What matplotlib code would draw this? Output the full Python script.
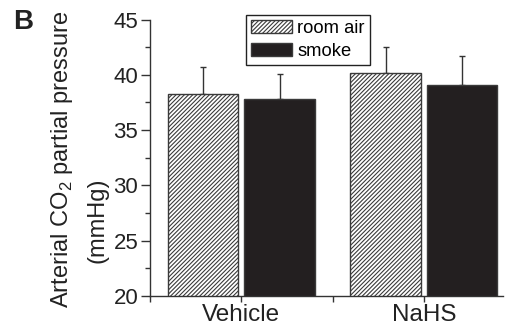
import matplotlib
matplotlib.use("Agg")
import matplotlib.pyplot as plt
from matplotlib.ticker import MultipleLocator
import numpy as np

plt.rcParams['font.family'] = ['Liberation Sans', 'DejaVu Sans']
plt.rcParams['hatch.linewidth'] = 0.8
plt.rcParams['hatch.color'] = '#333333'
plt.rcParams['mathtext.fontset'] = 'custom'
plt.rcParams['mathtext.rm'] = 'Liberation Sans'

groups = ["Vehicle", "NaHS"]
series = ["room air", "smoke"]
room_air_mean = [38.3, 40.2]
room_air_sd = [2.4, 2.3]
smoke_mean = [37.8, 39.1]
smoke_sd = [2.3, 2.6]

fig = plt.figure(figsize=(5.05, 3.28), dpi=100)
ax = fig.add_axes([0.297, 0.0976, 0.699, 0.8429])

x = np.arange(len(groups))
width = 0.385
offset = 0.21
edge = '#3a3a3a'
dense = '/' * 8

ax.bar(x - offset, room_air_mean, width, color='white',
       edgecolor=edge, hatch=dense, linewidth=1.0, label=series[0], zorder=2)
ax.bar(x + offset, smoke_mean, width, color='#231f20',
       edgecolor=edge, linewidth=1.0, label=series[1], zorder=2)

ax.errorbar(x - offset, room_air_mean, yerr=[np.zeros(2), room_air_sd],
            fmt='none', ecolor='#333333', elinewidth=1.0, capsize=2.2,
            capthick=1.0, zorder=1)
ax.errorbar(x + offset, smoke_mean, yerr=[np.zeros(2), smoke_sd],
            fmt='none', ecolor='#333333', elinewidth=1.0, capsize=2.2,
            capthick=1.0, zorder=1)

ax.set_ylim(20, 45)
ax.set_xlim(-0.5, 1.433)
ax.yaxis.set_major_locator(MultipleLocator(5))
ax.yaxis.set_minor_locator(MultipleLocator(2.5))
ax.set_xticks(x)
ax.set_xticklabels(groups, fontsize=17.5, color='#222222')
ax.set_xticks([-0.5, 0.5], minor=True)
ax.tick_params(axis='y', which='major', direction='out', length=6.5,
               width=1.0, labelsize=16, colors='#333333', labelcolor='#222222', pad=2)
ax.tick_params(axis='y', which='minor', direction='out', length=3.5,
               width=1.0, colors='#333333')
ax.tick_params(axis='x', which='both', direction='out', length=4,
               width=1.0, colors='#333333', labelcolor='#222222', pad=2)

for side in ('top', 'right'):
    ax.spines[side].set_visible(False)
for side in ('left', 'bottom'):
    ax.spines[side].set_linewidth(1.0)
    ax.spines[side].set_color('#333333')

fig.text(62 / 505, 1 - 159.5 / 328, r'Arterial CO$_2$ partial pressure',
         rotation=90, ha='center', va='center', fontsize=17, color='#222222')
fig.text(98 / 505, 1 - 220 / 328, '(mmHg)',
         rotation=90, ha='center', va='center', fontsize=17, color='#222222')
fig.text(13 / 505, 1 - 22 / 328, 'B', ha='left', va='center',
         fontsize=20, fontweight='bold', color='#222222')

leg = ax.legend(loc='upper left', bbox_to_anchor=(245.7 / 505, 1 - 14.7 / 328),
                bbox_transform=fig.transFigure, fontsize=13.2, frameon=True,
                fancybox=False, edgecolor='#222222', framealpha=1,
                handlelength=2.2, handleheight=0.72, handletextpad=0.3,
                borderpad=0.3, labelspacing=0.3, borderaxespad=0)
leg.get_frame().set_linewidth(1.0)

fig.savefig("out.png", dpi=100)
